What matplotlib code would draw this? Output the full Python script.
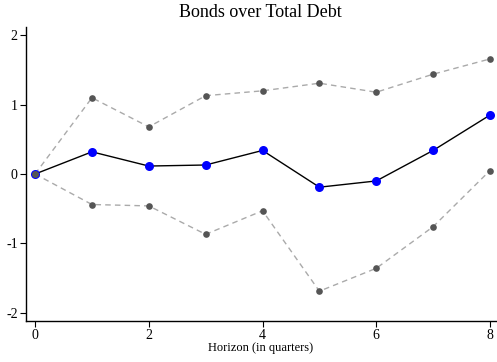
import matplotlib
matplotlib.use("Agg")
import matplotlib.pyplot as plt

horizon = [0, 1, 2, 3, 4, 5, 6, 7, 8]
irf = [0.0, 0.32, 0.115, 0.13, 0.34, -0.19, -0.10, 0.34, 0.85]
upper = [0.0, 1.10, 0.68, 1.13, 1.20, 1.31, 1.18, 1.44, 1.66]
lower = [0.0, -0.44, -0.46, -0.87, -0.53, -1.69, -1.36, -0.76, 0.05]

plt.rcParams['font.family'] = ['Liberation Serif', 'DejaVu Serif']
plt.rcParams['axes.unicode_minus'] = False

fig = plt.figure(figsize=(4.97, 3.62), dpi=100)
ax = fig.add_axes([0.0523, 0.1133, 0.945, 0.812])

# point estimates
ax.plot(horizon, irf, '-', color='black', lw=1.0, zorder=3)
ax.plot(horizon, irf, 'o', color='blue', ms=6.5, mec='none', zorder=4)

# confidence bands
for band in (upper, lower):
    ax.plot(horizon, band, '--', color='#aaaaaa', lw=1.0, dashes=(4, 3), zorder=1)
    ax.plot(horizon, band, 'o', color='#555555', ms=4.8, mec='none', zorder=5)

ax.set_xlim(-0.16, 8.1)
ax.set_ylim(-2.12, 2.12)
ax.set_xticks([0, 2, 4, 6, 8])
ax.set_yticks([-2, -1, 0, 1, 2])
for s in ('top', 'right'):
    ax.spines[s].set_visible(False)
for s in ('left', 'bottom'):
    ax.spines[s].set_linewidth(1.0)
ax.tick_params(direction='out', length=4, width=0.8, labelsize=10, pad=2)

ax.set_title('Bonds over Total Debt', fontsize=13, pad=7)
ax.set_xlabel('Horizon (in quarters)', fontsize=9, labelpad=0)

fig.savefig('out.png', dpi=100)
